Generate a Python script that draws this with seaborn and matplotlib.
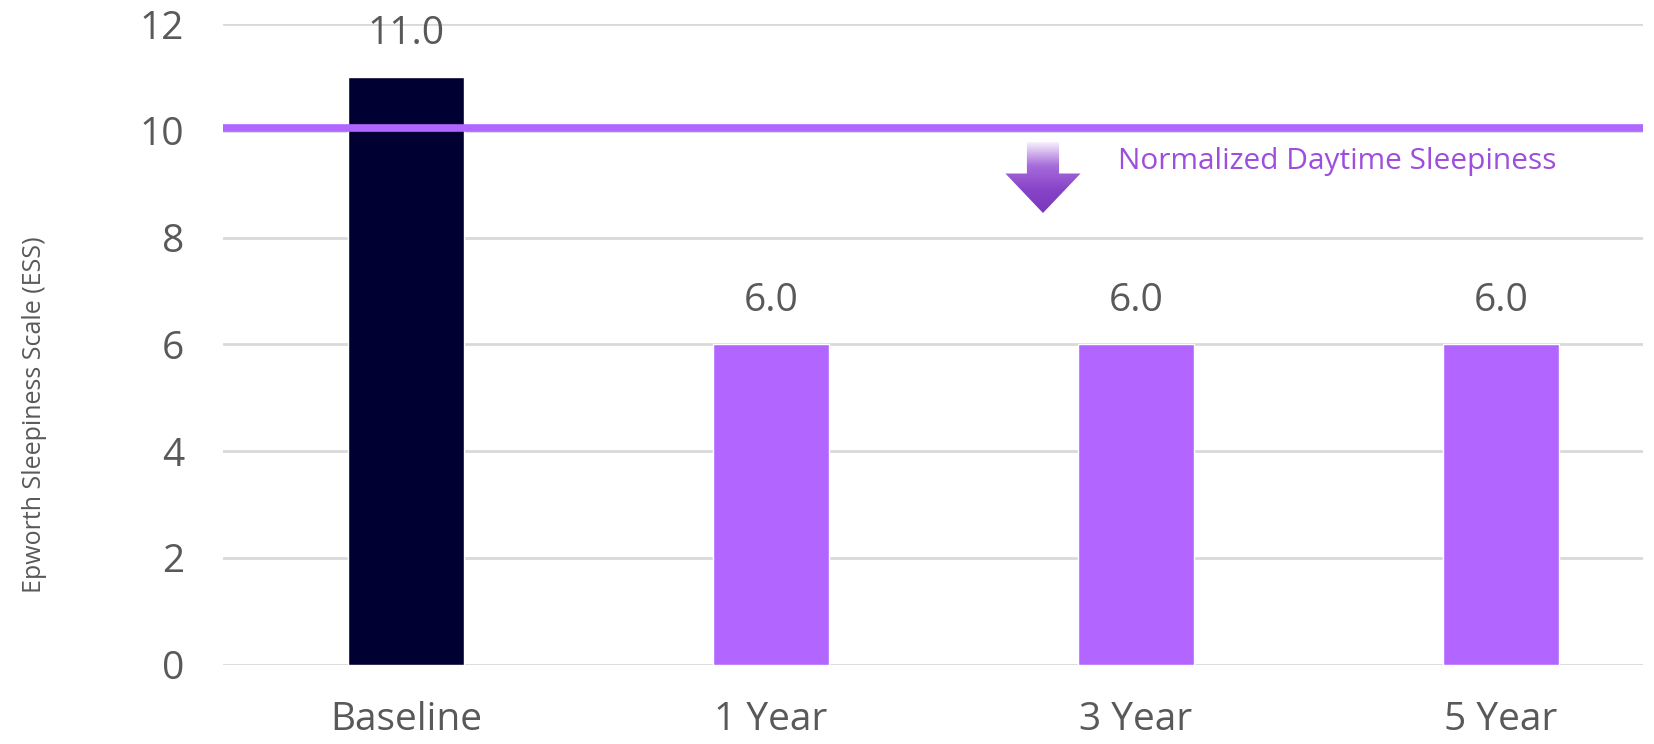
import numpy as np
import matplotlib
matplotlib.use("Agg")
import matplotlib.pyplot as plt
from matplotlib.patches import Polygon
from matplotlib.colors import LinearSegmentedColormap
import seaborn as sns

# Epworth Sleepiness Scale over follow-up
categories = ["Baseline", "1 Year", "3 Year", "5 Year"]
ess_scores = [11.0, 6.0, 6.0, 6.0]
bar_colors = ["#000033", "#B266FF", "#B266FF", "#B266FF"]
y_ticks = [0, 2, 4, 6, 8, 10, 12]
normal_threshold = 10.06
threshold_label = "Normalized Daytime Sleepiness"
y_label = "Epworth Sleepiness Scale (ESS)"

sns.set_theme(style="white")
plt.rcParams["font.family"] = ["Open Sans", "DejaVu Sans"]

fig = plt.figure(figsize=(16.54, 7.44), dpi=100)
ax = fig.add_axes([0.1348, 0.1067, 0.9934 - 0.1348, 0.9677 - 0.1067])

grey_text = "#595959"

ax.set_axisbelow(True)
for t in y_ticks:
    ax.axhline(t, color="#D9D9D9", lw=2.0, zorder=0)

sns.barplot(x=categories, y=ess_scores, hue=categories, palette=bar_colors,
            width=0.32, legend=False, saturation=1, ax=ax, zorder=2)

# Value labels above the bars
for i, v in enumerate(ess_scores):
    ax.annotate(f"{v:.1f}", xy=(i, v), xytext=(0, 31), textcoords="offset points",
                ha="center", va="center", fontsize=28, color=grey_text,
                annotation_clip=False)

# Threshold line
ax.axhline(normal_threshold, color="#B066FF", lw=5.5, zorder=3)

# Gradient down-arrow beside the threshold label
cx, sh, hh = 1.745, 0.044, 0.103
y_top, y_head, y_tip = 9.79, 9.20, 8.46
arrow = Polygon([(cx - sh, y_top), (cx + sh, y_top), (cx + sh, y_head),
                 (cx + hh, y_head), (cx, y_tip), (cx - hh, y_head),
                 (cx - sh, y_head)], closed=True, facecolor="none",
                edgecolor="none", transform=ax.transData)
ax.add_patch(arrow)
cmap = LinearSegmentedColormap.from_list("arr", ["#F7F0FC", "#A66CDB", "#8844C8", "#7A38BC"])
grad = np.linspace(0, 1, 256).reshape(-1, 1)
img = ax.imshow(grad, cmap=cmap, aspect="auto",
                extent=(cx - hh, cx + hh, y_tip, y_top), origin="upper", zorder=4)
img.set_clip_path(arrow)

ax.text(1.95, 9.43, threshold_label, color="#9D4EDD", fontsize=21.5,
        ha="left", va="center", zorder=4)

ax.set_xlim(-0.5014, 3.389)
ax.set_ylim(0, 12)
ax.set_yticks(y_ticks)
ax.set_yticklabels([str(t) for t in y_ticks])
ax.tick_params(axis="y", length=0, pad=28, labelsize=28, labelcolor=grey_text)
ax.tick_params(axis="x", length=0, pad=26, labelsize=28, labelcolor=grey_text)
ax.set_xlabel("")
ax.set_ylabel(y_label, fontsize=18, color=grey_text)
ax.yaxis.set_label_coords(-0.124, 0.39)
for s in ax.spines.values():
    s.set_visible(False)

fig.savefig("out.png", dpi=100, facecolor="white")
